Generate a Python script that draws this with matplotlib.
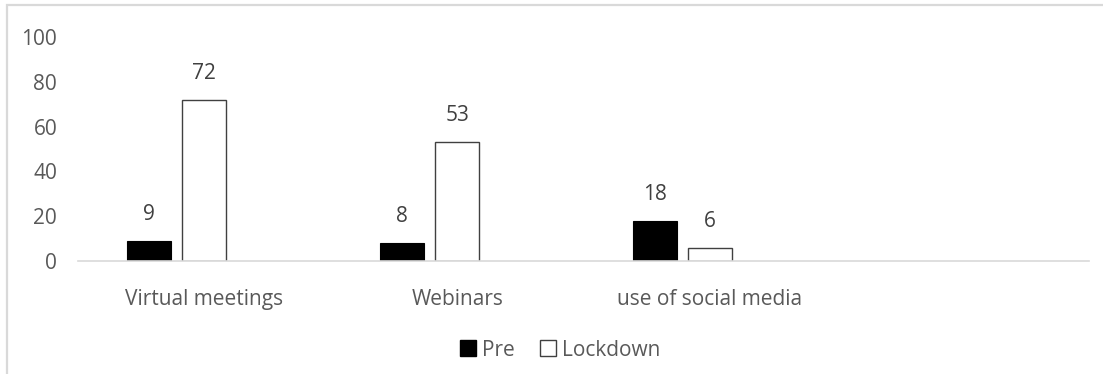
import matplotlib
matplotlib.use("Agg")
import matplotlib.pyplot as plt
from matplotlib.patches import Rectangle, Patch
import numpy as np

categories = ["Virtual meetings", "Webinars", "use of social media"]
pre_values = [9, 8, 18]
lockdown_values = [72, 53, 6]
series_names = ["Pre", "Lockdown"]
y_ticks = [0, 20, 40, 60, 80, 100]

W, H = 1103, 374
fig = plt.figure(figsize=(W / 100, H / 100), dpi=100)
plt.rcParams["font.family"] = ["Open Sans", "DejaVu Sans"]
text_color = "#595959"
fs = 15

# chart frame (light grey outline running off the right and bottom edges)
fig.patches.append(Rectangle((6.5 / W, -0.05), 1.1, (H - 5.5) / H + 0.05,
                             transform=fig.transFigure, fill=False,
                             edgecolor="#d9d9d9", linewidth=1.6))

left_px, right_px = 78, 1089
base_px, top_px = 261, 37
ax = fig.add_axes([left_px / W, (H - base_px) / H,
                   (right_px - left_px) / W, (base_px - top_px) / H])

# four category slots on the axis, the last one left empty
n_slots = 4
x = np.arange(len(categories))
ax.set_xlim(-0.5, n_slots - 0.5)
ax.set_ylim(0, 100)

width = 0.174
step = 0.219
b1 = ax.bar(x - step, pre_values, width, color="black", edgecolor="black",
            linewidth=0.8, label=series_names[0])
b2 = ax.bar(x, lockdown_values, width, color="white", edgecolor="#404040",
            linewidth=1.0, label=series_names[1])

for bars, vals in ((b1, pre_values), (b2, lockdown_values)):
    for rect, v in zip(bars, vals):
        ax.annotate(str(v), (rect.get_x() + rect.get_width() / 2, v),
                    xytext=(0, 19), textcoords="offset points",
                    ha="center", va="center", fontsize=fs, color="#404040")

for s in ax.spines.values():
    s.set_visible(False)
ax.axhline(0, color="#d9d9d9", linewidth=1.2, clip_on=False)

ax.set_yticks(y_ticks)
ax.set_yticklabels([str(t) for t in y_ticks])
ax.tick_params(axis="y", length=0, pad=15, labelsize=fs, labelcolor=text_color)
ax.set_xticks(x)
ax.set_xticklabels(categories)
ax.tick_params(axis="x", length=0, pad=20, labelsize=fs, labelcolor=text_color)
ax.patch.set_visible(False)

handles = [Patch(facecolor="black", edgecolor="black", label=series_names[0]),
           Patch(facecolor="white", edgecolor="#404040", label=series_names[1])]
fig.legend(handles=handles, loc="center", bbox_to_anchor=(560 / W, 1 - 350 / H),
           ncol=2, frameon=False, fontsize=fs, labelcolor=text_color,
           handlelength=0.77, handleheight=0.77, handletextpad=0.3,
           columnspacing=1.2)

fig.savefig("out.png", dpi=100)
